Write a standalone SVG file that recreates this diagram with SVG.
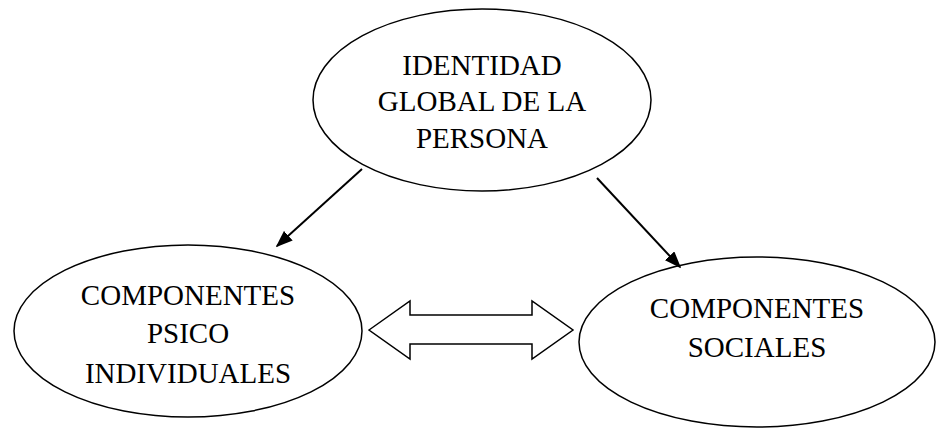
<svg xmlns="http://www.w3.org/2000/svg" width="936" height="428" viewBox="0 0 936 428">
<style>
.node ellipse{fill:#fff;stroke:#000;stroke-width:1.5}
text{font-family:"Liberation Serif","Times New Roman",serif;font-size:29px;fill:#000;text-anchor:middle}
.conn line{stroke:#000;stroke-width:2}
.dbl{fill:#fff;stroke:#000;stroke-width:1.5;stroke-linejoin:miter}
</style>
<defs>
<marker id="ah" viewBox="0 0 10 10" refX="9" refY="5" markerWidth="17" markerHeight="13" markerUnits="userSpaceOnUse" orient="auto" preserveAspectRatio="none">
<path d="M0,0 L10,5 L0,10 Z" fill="#000"/>
</marker>
</defs>
<rect width="936" height="428" fill="#fff"/>
<g id="identidad" class="node">
<ellipse cx="482" cy="100" rx="169" ry="91"/>
<text x="482" y="75">IDENTIDAD</text>
<text x="482" y="111">GLOBAL DE LA</text>
<text x="482" y="148">PERSONA</text>
</g>
<g id="psico" class="node">
<ellipse cx="188" cy="331" rx="174" ry="86"/>
<text x="188" y="305">COMPONENTES</text>
<text x="188" y="343">PSICO</text>
<text x="188" y="383">INDIVIDUALES</text>
</g>
<g id="sociales" class="node">
<ellipse cx="757" cy="342" rx="178" ry="85"/>
<text x="757" y="318">COMPONENTES</text>
<text x="757" y="357">SOCIALES</text>
</g>
<g id="connectors" class="conn">
<line x1="362" y1="169" x2="277" y2="246" marker-end="url(#ah)"/>
<line x1="597" y1="178" x2="680" y2="267" marker-end="url(#ah)"/>
<path class="dbl" d="M369,330 L410,301 L410,315 L532,315 L532,301 L573,330 L532,359 L532,344 L410,344 L410,359 Z"/>
</g>
</svg>
